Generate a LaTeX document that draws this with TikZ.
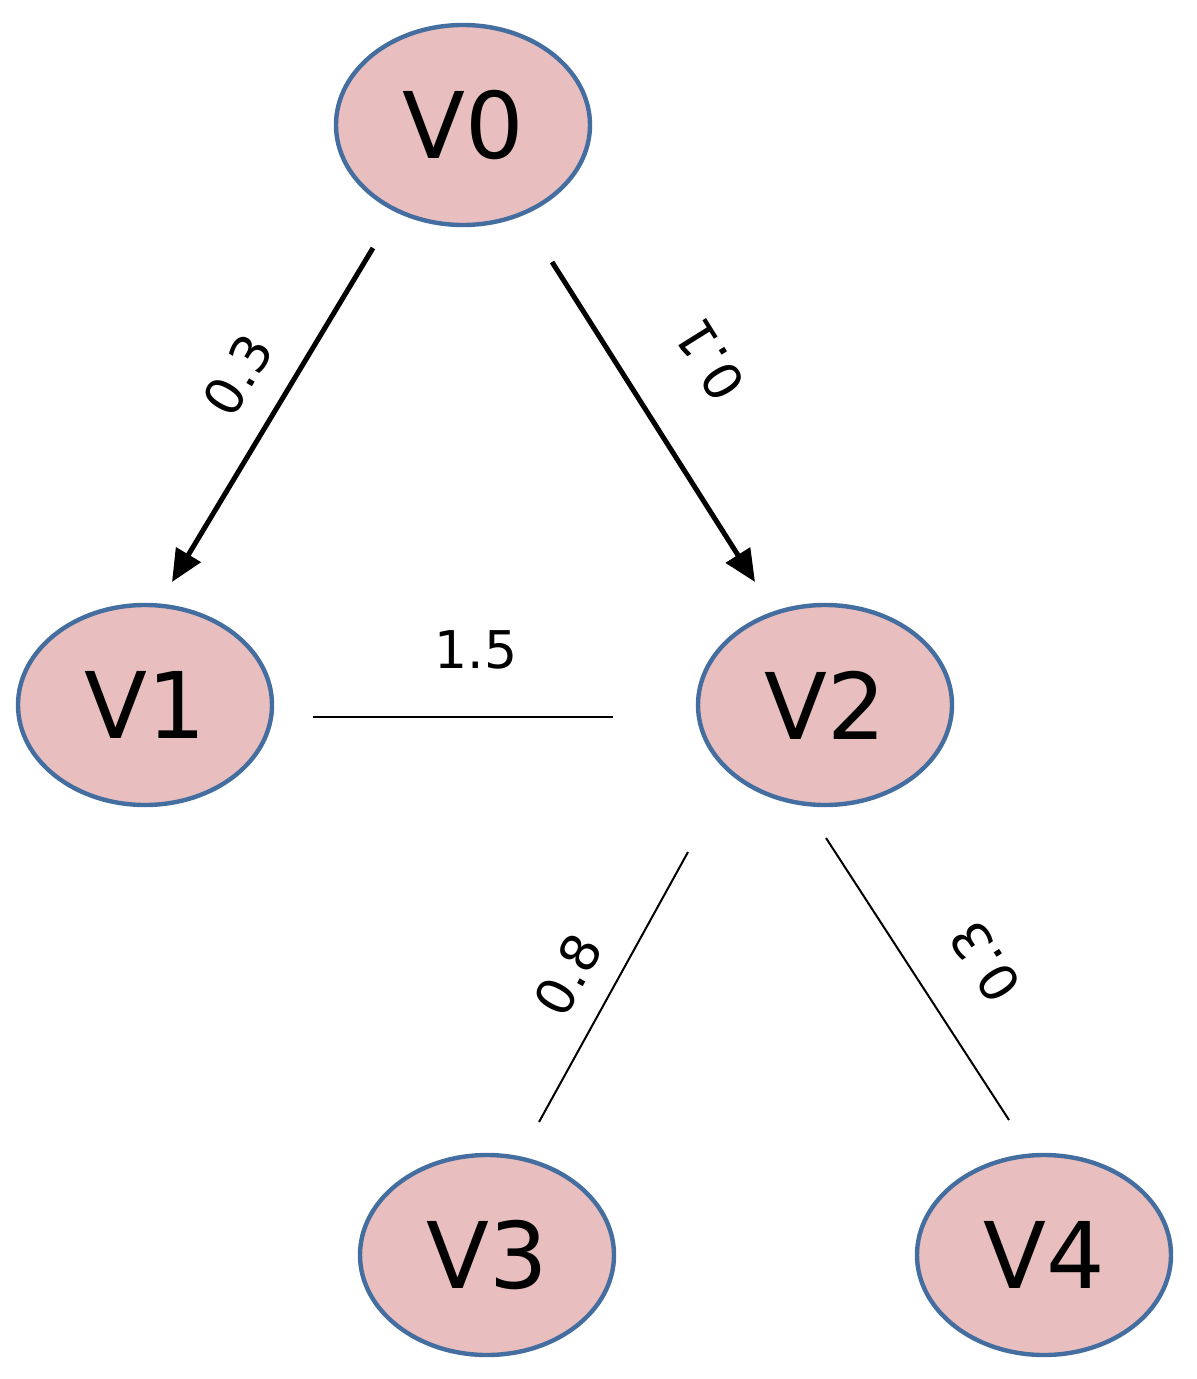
\documentclass[tikz,border=0pt]{standalone}
\usepackage{fontspec}
\setmainfont{DejaVu Sans}
\usetikzlibrary{arrows.meta,shapes.geometric}
\definecolor{nfill}{RGB}{232,190,190}
\definecolor{nedge}{RGB}{68,110,160}
\begin{document}
\begin{tikzpicture}[x=0.5pt,y=-0.5pt,
  vert/.style={ellipse,draw=nedge,line width=2.2pt,fill=nfill,minimum width=127pt,minimum height=100pt,inner sep=0pt,font=\fontsize{46}{46}\selectfont},
  lab/.style={font=\fontsize{26}{26}\selectfont,inner sep=0pt},
  arr/.style={line width=2.5pt,-{Triangle[length=16pt,width=14pt]}},
  thin/.style={line width=1pt}]
\useasboundingbox (0,0) rectangle (1196,1379);
\node[vert] (v0) at (463,125) {V0};
\node[vert] (v1) at (145,705) {V1};
\node[vert] (v2) at (825,705) {V2};
\node[vert] (v3) at (487,1255) {V3};
\node[vert] (v4) at (1044,1255) {V4};
\coordinate (a1) at (373,248); \coordinate (a2) at (172,582);
\coordinate (b1) at (552,262); \coordinate (b2) at (755,582);
\coordinate (c1) at (313,717); \coordinate (c2) at (613,717);
\coordinate (d1) at (688,852); \coordinate (d2) at (539,1122);
\coordinate (e1) at (826,838); \coordinate (e2) at (1009,1120);
\draw[arr] (a1) -- (a2);
\draw[arr] (b1) -- (b2);
\draw[thin] (c1) -- (c2);
\draw[thin] (d1) -- (d2);
\draw[thin] (e1) -- (e2);
\node[lab,rotate=59] (l1) at (238,375) {0.3};
\node[lab,rotate=122] (l2) at (710,360) {0.1};
\node[lab] (l3) at (476,650) {1.5};
\node[lab,rotate=61] (l4) at (568,975) {0.8};
\node[lab,rotate=123] (l5) at (985,962) {0.3};
\end{tikzpicture}
\end{document}
